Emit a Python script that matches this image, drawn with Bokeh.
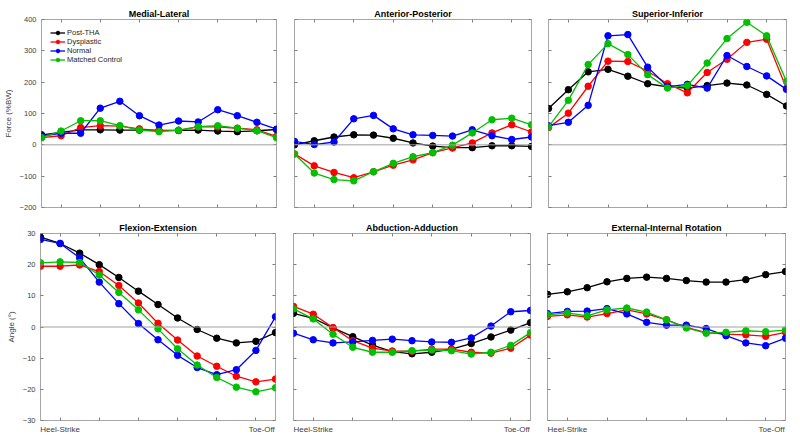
from bokeh.plotting import figure
from bokeh.layouts import column, row
from bokeh.models import Range1d, Span, LinearAxis, FixedTicker, Legend, LegendItem
from bokeh.embed import file_html
from bokeh.resources import INLINE

# ---------------- data ----------------
phase = list(range(13))
x_ticks = [1, 3, 5, 7, 9, 11]
x_label_ticks = [1, 11.3]
x_tick_labels = {1: "Heel-Strike", 11.3: "Toe-Off"}
series_names = ["Post-THA", "Dysplastic", "Normal", "Matched Control"]
colors = ["#000000", "#ff0000", "#0000ff", "#00c000"]

force_ticks = [-200, -100, 0, 100, 200, 300, 400]
angle_ticks = [-30, -20, -10, 0, 10, 20, 30]

ml_post = [32, 40, 48, 48, 47, 47, 46, 46, 47, 44, 42, 45, 49]
ml_dys = [23, 29, 55, 61, 60, 51, 45, 46, 57, 57, 53, 48, 27]
ml_norm = [28, 37, 37, 117, 139, 93, 63, 76, 73, 112, 93, 72, 50]
ml_match = [23, 44, 77, 77, 61, 47, 42, 47, 58, 61, 53, 45, 23]

ap_post = [0, 13, 25, 32, 31, 21, 6, -4, -9, -9, -3, -3, -5]
ap_dys = [-29, -67, -88, -105, -86, -65, -48, -25, -10, 6, 38, 64, 41]
ap_norm = [11, 1, 9, 83, 94, 51, 32, 30, 28, 48, 29, 17, 25]
ap_match = [-29, -90, -111, -115, -86, -59, -38, -25, -1, 38, 80, 85, 64]

si_post = [116, 176, 233, 241, 219, 195, 185, 181, 189, 197, 191, 161, 124]
si_dys = [55, 101, 187, 267, 266, 235, 195, 166, 231, 273, 327, 337, 180]
si_norm = [61, 72, 126, 348, 352, 248, 186, 193, 181, 285, 250, 220, 177]
si_match = [57, 142, 256, 323, 288, 224, 181, 189, 261, 339, 391, 348, 202]

fe_post = [28.8, 26.8, 23.7, 20.0, 15.9, 11.5, 7.2, 2.9, -0.8, -3.6, -5.1, -4.6, -1.8]
fe_dys = [19.5, 19.5, 19.9, 17.8, 13.3, 7.7, 1.2, -4.2, -9.3, -12.6, -15.8, -17.6, -16.7]
fe_norm = [28.1, 26.8, 22.2, 14.4, 7.5, 1.1, -4.1, -9.1, -13.0, -15.3, -13.7, -7.5, 3.3]
fe_match = [20.6, 20.9, 20.7, 16.7, 11.1, 5.5, -0.6, -7.0, -12.2, -16.2, -19.3, -20.8, -19.5]

aa_post = [4.4, 2.8, -0.3, -3.1, -5.8, -7.9, -8.6, -8.1, -7.1, -5.3, -3.2, -1.0, 1.4]
aa_dys = [6.6, 4.1, -0.2, -4.4, -6.8, -7.7, -7.8, -7.1, -7.1, -8.1, -8.4, -6.8, -2.6]
aa_norm = [-2.0, -4.1, -5.1, -4.8, -4.3, -3.9, -4.4, -4.8, -4.9, -3.5, 0.3, 4.9, 5.3]
aa_match = [5.8, 2.6, -2.3, -6.5, -8.1, -8.1, -7.6, -7.4, -7.6, -8.7, -8.1, -5.9, -1.8]

ei_post = [10.5, 11.3, 12.6, 14.5, 15.6, 16.0, 15.6, 14.9, 14.4, 14.4, 15.2, 16.8, 17.8]
ei_dys = [3.4, 3.9, 3.2, 4.3, 5.5, 4.2, 2.3, -0.1, -1.8, -2.3, -2.5, -3.0, -1.7]
ei_norm = [4.3, 5.0, 5.1, 5.9, 4.2, 1.5, 0.6, 0.6, -0.5, -2.8, -5.1, -6.0, -3.6]
ei_match = [3.9, 4.5, 3.6, 5.5, 6.1, 4.8, 2.3, -0.3, -2.0, -1.7, -1.2, -1.5, -1.0]

FONT = "Liberation Sans"
TICK_COLOR = "#7f7f7f"
LABEL_COLOR = "#404040"


def style_axis(ax, ticks, show_labels, show_ticks=True, overrides=None):
    ax.ticker = FixedTicker(ticks=ticks)
    ax.axis_line_color = None
    ax.major_tick_in = 3
    ax.major_tick_out = 0
    ax.major_tick_line_color = TICK_COLOR if show_ticks else None
    ax.minor_tick_line_color = None
    ax.major_label_text_font = FONT
    if show_labels:
        ax.major_label_text_font_size = "7.5px"
        ax.major_label_text_color = LABEL_COLOR
        ax.major_label_standoff = 5
    else:
        ax.major_label_text_font_size = "1px"
        ax.major_label_text_color = None
        ax.major_label_standoff = 0
    if overrides is not None:
        ax.major_label_overrides = overrides


def make_panel(title, data, y_lo, y_hi, y_ticks, ylabel, left_labels, bottom_labels,
               frame_w, frame_h, b_left, b_right, b_top, b_bottom, legend=False):
    p = figure(frame_width=frame_w, frame_height=frame_h, output_backend="svg",
               toolbar_location=None, x_range=Range1d(0, 12), y_range=Range1d(y_lo, y_hi),
               min_border_left=b_left, min_border_right=b_right,
               min_border_bottom=b_bottom, min_border_top=b_top)
    p.title.text = title
    p.title.align = "center"
    p.title.text_font = FONT
    p.title.text_font_size = "9px"
    p.title.text_font_style = "bold"
    p.title.text_color = "#000000"
    p.title.standoff = 2
    p.title.offset = 0
    p.outline_line_color = "#a6a6a6"
    p.outline_line_width = 1
    p.xgrid.visible = False
    p.ygrid.visible = False
    p.background_fill_color = "white"
    p.border_fill_color = "white"

    style_axis(p.xaxis[0], x_ticks, False)
    style_axis(p.yaxis[0], y_ticks, left_labels)
    if ylabel:
        p.yaxis.axis_label = ylabel
        p.yaxis.axis_label_text_font = FONT
        p.yaxis.axis_label_text_font_size = "8px"
        p.yaxis.axis_label_text_font_style = "normal"
        p.yaxis.axis_label_text_color = LABEL_COLOR
        p.yaxis.axis_label_standoff = 4
    if bottom_labels:
        lab = LinearAxis()
        style_axis(lab, x_label_ticks, True, show_ticks=False, overrides=x_tick_labels)
        lab.major_label_text_font_size = "8px"
        lab.major_label_standoff = 4
        p.add_layout(lab, "below")

    top = LinearAxis()
    style_axis(top, x_ticks, False)
    p.add_layout(top, "above")
    right = LinearAxis()
    style_axis(right, y_ticks, False)
    p.add_layout(right, "right")

    p.add_layout(Span(location=0, dimension="width", line_color="#a0a0a0", line_width=1))

    items = []
    for name, vals, c in zip(series_names, data, colors):
        r1 = p.line(phase, vals, line_color=c, line_width=1.3)
        r2 = p.scatter(phase, vals, size=6.5, fill_color=c, line_color=c, marker="circle")
        items.append(LegendItem(label=name, renderers=[r1, r2]))

    if legend:
        leg = Legend(items=items, location="top_left")
        leg.margin = 9
        leg.padding = 0
        leg.spacing = 0
        leg.glyph_width = 15
        leg.glyph_height = 9
        leg.label_height = 9
        leg.label_standoff = 2
        leg.label_text_font = FONT
        leg.label_text_font_size = "7.5px"
        leg.label_text_color = "#262626"
        leg.background_fill_alpha = 0
        leg.border_line_color = None
        p.add_layout(leg)
    return p


f1 = make_panel("Medial-Lateral", [ml_post, ml_dys, ml_norm, ml_match], -200, 400, force_ticks,
                "Force (%BW)", True, False, 235, 188, 40, 9, 19, 12, legend=True)
f2 = make_panel("Anterior-Posterior", [ap_post, ap_dys, ap_norm, ap_match], -200, 400, force_ticks,
                None, False, False, 237, 188, 9, 8, 19, 12)
f3 = make_panel("Superior-Inferior", [si_post, si_dys, si_norm, si_match], -200, 400, force_ticks,
                None, False, False, 238, 188, 9, 9, 19, 12)
f4 = make_panel("Flexion-Extension", [fe_post, fe_dys, fe_norm, fe_match], -30, 30, angle_ticks,
                "Angle (°)", True, True, 235, 187, 40, 9, 14, 19)
f5 = make_panel("Abduction-Adduction", [aa_post, aa_dys, aa_norm, aa_match], -30, 30, angle_ticks,
                None, False, True, 237, 187, 9, 8, 14, 19)
f6 = make_panel("External-Internal Rotation", [ei_post, ei_dys, ei_norm, ei_match], -30, 30, angle_ticks,
                None, False, True, 238, 187, 9, 9, 14, 19)

layout = column(row(f1, f2, f3, spacing=0), row(f4, f5, f6, spacing=0), spacing=0)

open("out.html", "w").write(file_html(layout, INLINE))
